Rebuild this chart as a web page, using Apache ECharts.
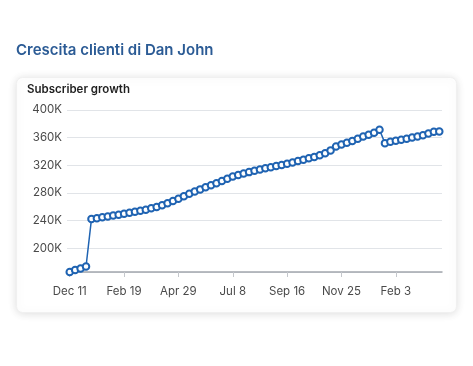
<!DOCTYPE html>
<html>
<head>
<meta charset="utf-8">
<script src="https://cdn.jsdelivr.net/npm/echarts@6/dist/echarts.min.js"></script>
<style>
html,body{margin:0;padding:0;background:#fff;}
#c{width:473px;height:366px;}
</style>
</head>
<body>
<div id="c"></div>
<script>
const pageTitle = 'Crescita clienti di Dan John';
const cardTitle = 'Subscriber growth';
const weeks = [
  'Dec 11','Dec 18','Dec 25','Jan 1','Jan 8','Jan 15','Jan 22','Jan 29','Feb 5','Feb 12',
  'Feb 19','Feb 26','Mar 4','Mar 11','Mar 18','Mar 25','Apr 1','Apr 8','Apr 15','Apr 22',
  'Apr 29','May 6','May 13','May 20','May 27','Jun 3','Jun 10','Jun 17','Jun 24','Jul 1',
  'Jul 8','Jul 15','Jul 22','Jul 29','Aug 5','Aug 12','Aug 19','Aug 26','Sep 2','Sep 9',
  'Sep 16','Sep 23','Sep 30','Oct 7','Oct 14','Oct 21','Oct 28','Nov 4','Nov 11','Nov 18',
  'Nov 25','Dec 2','Dec 9','Dec 16','Dec 23','Dec 30','Jan 6','Jan 13','Jan 20','Jan 27',
  'Feb 3','Feb 10','Feb 17','Feb 24','Mar 3','Mar 10','Mar 17','Mar 24','Mar 31'
];
const subscribers = [
  165300,168300,170300,173300,242000,243300,244500,245800,247000,248300,
  249600,251000,252500,254000,255600,257500,259500,262000,265000,268300,
  271500,275000,278500,282000,285000,288000,291000,294000,297000,300500,
  303500,306000,308000,310000,312000,313800,315500,317000,318700,320300,
  322000,324000,326000,328000,330000,332000,334500,337500,341500,347000,
  350000,352500,355000,358500,361500,364000,367000,371500,352000,354000,
  355500,357000,358500,360000,361500,363500,366000,368500,369000
];
const yMax = 400000;
const yStep = 40000;

const chart = echarts.init(document.getElementById('c'), null, {renderer:'canvas'});
const font = 'Inter, "Noto Sans", "DejaVu Sans", sans-serif';
chart.setOption({
  animation: false,
  backgroundColor: '#ffffff',
  textStyle: {fontFamily: font},
  graphic: [{
    type: 'rect', z: -10, silent: true,
    shape: {x: 16.5, y: 77.5, width: 440, height: 235, r: 6},
    style: {fill: '#ffffff', stroke: '#f0f0f0', lineWidth: 1,
            shadowBlur: 8, shadowColor: 'rgba(0,0,0,0.13)', shadowOffsetY: 1}
  }],
  title: [{
    text: pageTitle, left: 16, top: 43, padding: 0,
    textStyle: {fontFamily: font, fontSize: 15, fontWeight: 600, color: '#2b5b95'}
  },{
    text: cardTitle, left: 27, top: 84, padding: 0,
    textStyle: {fontFamily: font, fontSize: 11.5, fontWeight: 600, color: '#1f1f1f'}
  }],
  grid: {left: 67, right: 31, top: 110, bottom: 94, containLabel: false},
  xAxis: {
    type: 'category',
    data: weeks,
    boundaryGap: true,
    axisLine: {show: true, lineStyle: {color: '#a3a7ad', width: 1.5}},
    axisTick: {show: true, alignWithLabel: true, interval: 9, length: 5, lineStyle: {color: '#c4c7cc'}},
    axisLabel: {interval: 9, margin: 14, color: '#4a4a4a', fontSize: 11.5, fontFamily: font},
    splitLine: {show: false}
  },
  yAxis: {
    type: 'value',
    min: 'dataMin',
    max: yMax,
    minInterval: yStep,
    maxInterval: yStep,
    axisLine: {show: false},
    axisTick: {show: false},
    axisLabel: {
      margin: 5, color: '#4a4a4a', fontSize: 11.5, fontFamily: font,
      formatter: function (v) { return (v % yStep === 0) ? (v / 1000) + 'K' : ''; }
    },
    splitLine: {lineStyle: {color: '#e1e4e8', width: 1}}
  },
  series: [{
    type: 'line',
    data: subscribers,
    symbol: 'emptyCircle',
    symbolSize: 6.5,
    showAllSymbol: true,
    lineStyle: {color: '#1f63b2', width: 1.5},
    itemStyle: {color: '#1f63b2', borderWidth: 1.5}
  }]
});
</script>
</body>
</html>
